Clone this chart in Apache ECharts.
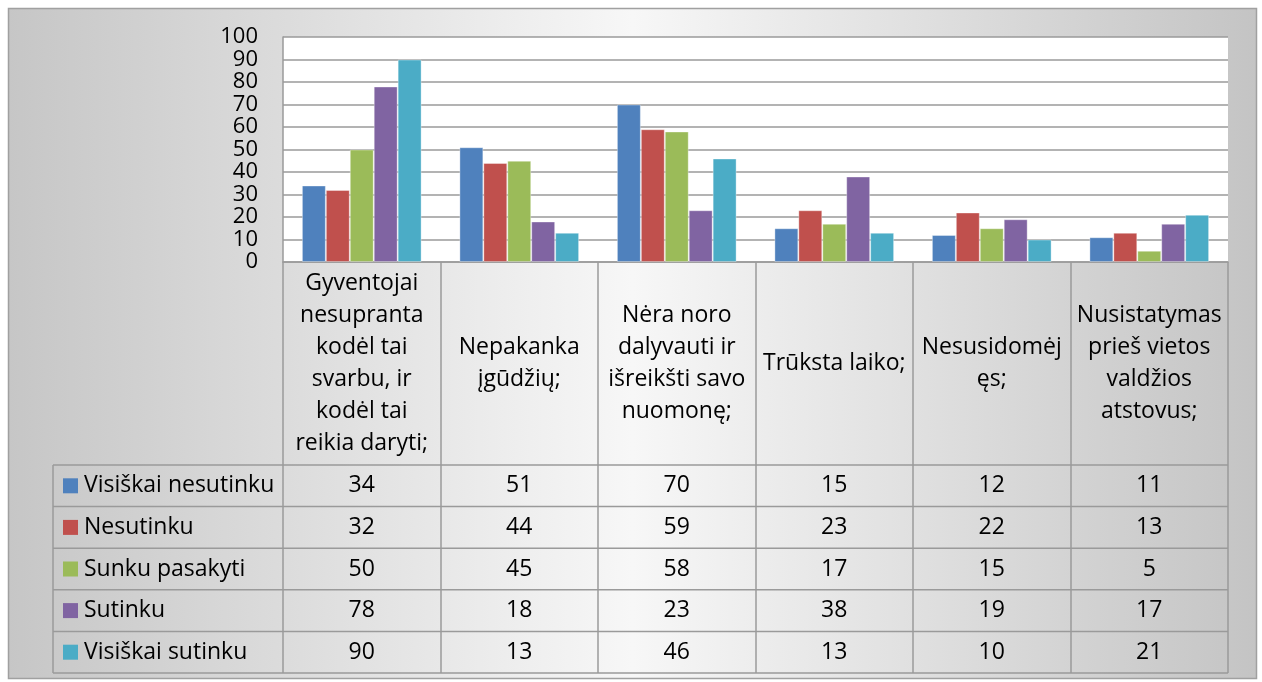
<!DOCTYPE html>
<html>
<head>
<meta charset="utf-8">
<script src="https://cdn.jsdelivr.net/npm/echarts@6/dist/echarts.min.js"></script>
<style>
  html, body { margin: 0; padding: 0; background: #fff; }
  #chart { width: 1262px; height: 682px; }
</style>
</head>
<body>
<div id="chart"></div>
<script>
// categories (line breaks as in the original table header)
const categories = [
  'Gyventojai\nnesupranta\nkodėl tai\nsvarbu, ir\nkodėl tai\nreikia daryti;',
  'Nepakanka\nįgūdžių;',
  'Nėra noro\ndalyvauti ir\nišreikšti savo\nnuomonę;',
  'Trūksta laiko;',
  'Nesusidomėj\nęs;',
  'Nusistatymas\nprieš vietos\nvaldžios\natstovus;'
];
const seriesNames = ['Visiškai nesutinku', 'Nesutinku', 'Sunku pasakyti', 'Sutinku', 'Visiškai sutinku'];
const visiskaiNesutinku = [34, 51, 70, 15, 12, 11];
const nesutinku = [32, 44, 59, 23, 22, 13];
const sunkuPasakyti = [50, 45, 58, 17, 15, 5];
const sutinku = [78, 18, 23, 38, 19, 17];
const visiskaiSutinku = [90, 13, 46, 13, 10, 21];
const seriesValues = [visiskaiNesutinku, nesutinku, sunkuPasakyti, sutinku, visiskaiSutinku];

const colors = ['#4f81bd', '#c0504d', '#9bbb59', '#8064a2', '#4bacc6'];
const FONT = '"Open Sans", sans-serif';
const LINE = '#9a9a9a';
const TXT = 23;

// table layout
const tableTop = 465;
const rowH = 41.6;
const tableLeft = 53;
const plotLeft = 283;
const plotRight = 1228;

const chart = echarts.init(document.getElementById('chart'));

const option = {
  animation: false,
  color: colors,
  textStyle: { fontFamily: FONT, color: '#000' },
  grid: {
    left: plotLeft,
    right: 1262 - plotRight,
    top: 37,
    bottom: 682 - 262,
    show: true,
    backgroundColor: '#fff',
    borderWidth: 0
  },
  xAxis: {
    type: 'category',
    data: categories,
    axisLine: { lineStyle: { color: LINE, width: 1.5 } },
    axisTick: { show: true, length: 673 - 262, lineStyle: { color: LINE, width: 1.5 } },
    axisLabel: {
      interval: 0,
      margin: 101.5,
      verticalAlign: 'middle',
      fontSize: TXT,
      lineHeight: 32,
      color: '#000',
      fontFamily: FONT
    }
  },
  yAxis: {
    type: 'value',
    min: 0,
    max: 100,
    interval: 10,
    axisLine: { show: true, lineStyle: { color: LINE, width: 1.5 } },
    axisTick: { show: false },
    splitLine: { lineStyle: { color: LINE, width: 1.5 } },
    axisLabel: { fontSize: 22, margin: 25, color: '#000', fontFamily: FONT }
  },
  series: seriesNames.map((name, i) => ({
    name: name,
    type: 'bar',
    data: seriesValues[i],
    barGap: '0%',
    barCategoryGap: '24%',
    itemStyle: { color: colors[i], borderColor: 'rgba(255,255,255,0.35)', borderWidth: 1 }
  }))
};

chart.setOption(option);

// background panel and data table
const graphics = [];
graphics.push({
  type: 'rect',
  z: -100,
  silent: true,
  shape: { x: 8.5, y: 8.5, width: 1248, height: 670 },
  style: {
    fill: new echarts.graphic.LinearGradient(0, 0, 1, 0, [
      { offset: 0, color: '#c6c6c6' },
      { offset: 0.5, color: '#f7f7f7' },
      { offset: 1, color: '#c4c4c4' }
    ]),
    stroke: '#a0a0a0',
    lineWidth: 1.5
  }
});

for (let r = 0; r <= seriesNames.length; r++) {
  const y = tableTop + r * rowH;
  graphics.push({
    type: 'line', z: 50, silent: true,
    shape: { x1: tableLeft, y1: y, x2: plotRight, y2: y },
    style: { stroke: LINE, lineWidth: 1.5 }
  });
}
graphics.push({
  type: 'line', z: 50, silent: true,
  shape: { x1: tableLeft, y1: tableTop, x2: tableLeft, y2: tableTop + seriesNames.length * rowH },
  style: { stroke: LINE, lineWidth: 1.5 }
});

seriesNames.forEach((name, r) => {
  const cy = tableTop + (r + 0.5) * rowH;
  graphics.push({
    type: 'rect', z: 50, silent: true,
    shape: { x: 63, y: cy - 7.5, width: 15, height: 15 },
    style: { fill: colors[r] }
  });
  graphics.push({
    type: 'text', z: 50, silent: true,
    x: 84, y: cy,
    style: { text: name, fontSize: TXT, fontFamily: FONT, fill: '#000', verticalAlign: 'middle', align: 'left' }
  });
  seriesValues[r].forEach((v, c) => {
    const cx = chart.convertToPixel({ xAxisIndex: 0 }, c);
    graphics.push({
      type: 'text', z: 50, silent: true,
      x: cx, y: cy,
      style: { text: String(v), fontSize: TXT, fontFamily: FONT, fill: '#000', verticalAlign: 'middle', align: 'center' }
    });
  });
});

chart.setOption({ graphic: { elements: graphics } });
</script>
</body>
</html>
